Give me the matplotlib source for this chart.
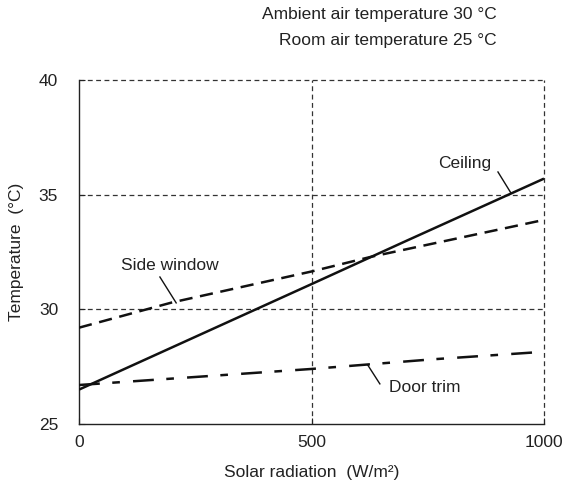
import matplotlib.pyplot as plt

plt.rcParams['font.family'] = ['Liberation Sans', 'DejaVu Sans']
plt.rcParams['lines.scale_dashes'] = False

# data
ceiling_x = [0, 500, 700, 1000]
ceiling_y = [26.5, 31.1, 32.95, 35.7]
window_x = [0, 200, 500, 630, 1000]
window_y = [29.2, 30.3, 31.65, 32.3, 33.9]
door_x = [0, 500, 760, 1000]
door_y = [26.7, 27.4, 27.82, 28.15]

x_ticks = [0, 500, 1000]
y_ticks = [25, 30, 35, 40]

FS = 12.5
INK = '#222222'

fig = plt.figure(figsize=(5.66, 4.86), dpi=100)
ax = fig.add_axes([79/566, 1 - 424/486, 465/566, 344/486])

ax.set_xlim(0, 1000)
ax.set_ylim(25, 40)

# dashed grid incl. the top/right frame
grid_kw = dict(color='#333333', lw=0.9, dashes=(3.5, 2.5), zorder=1, clip_on=False)
for yv in y_ticks[1:]:
    ax.axhline(yv, **grid_kw)
for xv in x_ticks[1:]:
    ax.axvline(xv, **grid_kw)
ax.spines['top'].set_visible(False)
ax.spines['right'].set_visible(False)
for s in ['left', 'bottom']:
    ax.spines[s].set_linewidth(1.0)
    ax.spines[s].set_color(INK)

ax.plot(ceiling_x, ceiling_y, color='#111111', lw=1.8, solid_capstyle='butt', zorder=3)
ax.plot(window_x, window_y, color='#111111', lw=1.8, dashes=(9.5, 5.5), zorder=3)
ax.plot(door_x, door_y, color='#111111', lw=1.8, dashes=(15, 9, 5.5, 9.5), zorder=3)

ax.set_xticks(x_ticks)
ax.set_yticks(y_ticks)
ax.tick_params(direction='in', length=4, width=0.8, labelsize=FS, colors=INK)
ax.tick_params(axis='x', pad=8)
ax.tick_params(axis='y', pad=15)
ax.set_xlabel('Solar radiation  (W/m²)', fontsize=FS, color=INK, va='center')
ax.set_ylabel('Temperature  (°C)', fontsize=FS, color=INK, va='center')
ax.xaxis.set_label_coords(0.5, -(472 - 424) / 344)
ax.yaxis.set_label_coords((17 - 79) / 465, 0.5)

# curve labels with leader lines
leader_kw = dict(color='#111111', lw=1.0, zorder=4)
ax.text(195, 31.89, 'Side window', fontsize=FS, ha='center', va='center', color=INK)
ax.plot([174, 209], [31.41, 30.28], **leader_kw)
ax.text(829, 36.34, 'Ceiling', fontsize=FS, ha='center', va='center', color=INK)
ax.plot([901, 929], [35.99, 35.07], **leader_kw)
ax.text(744, 26.61, 'Door trim', fontsize=FS, ha='center', va='center', color=INK)
ax.plot([621, 647], [27.57, 26.75], **leader_kw)

fig.text(497/566, 1 - 14/486, 'Ambient air temperature 30 °C', ha='right', va='center',
         fontsize=FS, color=INK)
fig.text(497/566, 1 - 41/486, 'Room air temperature 25 °C', ha='right', va='center',
         fontsize=FS, color=INK)

fig.savefig('out.png', dpi=100)
